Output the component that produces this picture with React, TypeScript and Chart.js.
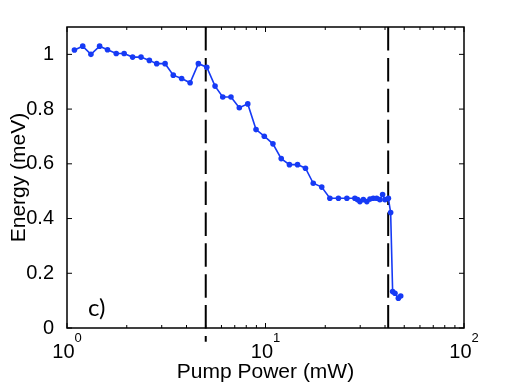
import React, { useEffect, useRef } from "react";
import { Chart, registerables } from "chart.js";

Chart.register(...registerables);

// Pump power (mW) and energy (meV)
const powers = [
  1.09, 1.2, 1.32, 1.46, 1.6, 1.77, 1.94, 2.14, 2.36, 2.6, 2.83, 3.12, 3.43, 3.78, 4.17, 4.59,
  5.06, 5.57, 6.09, 6.7, 7.38, 8.14, 8.96, 9.86, 10.9, 12.0, 13.2, 14.5, 15.9, 17.4, 19.2,
  21.1, 23.3, 25.7, 28.2, 29.1, 29.9, 31.1, 32.4, 33.6, 34.9, 36.3, 37.7, 38.9, 40.0, 41.6,
  42.7, 43.7, 44.9, 46.7, 48.0,
];
const energies = [
  1.016, 1.03, 1.0, 1.03, 1.017, 1.003, 1.003, 0.99, 0.99, 0.978, 0.966, 0.966, 0.924, 0.912,
  0.896, 0.966, 0.953, 0.884, 0.844, 0.844, 0.805, 0.819, 0.725, 0.701, 0.673, 0.619, 0.597,
  0.597, 0.584, 0.529, 0.515, 0.474, 0.474, 0.474, 0.474, 0.469, 0.462, 0.469, 0.462, 0.471,
  0.474, 0.474, 0.469, 0.488, 0.469, 0.474, 0.422, 0.133, 0.127, 0.109, 0.117,
];

const yTicks = [0, 0.2, 0.4, 0.6, 0.8, 1];
const xMajorTicks = [1, 10, 100];
const xTickBase = "10";
const xTickExponents = ["0", "1", "2"];
const xMinorTicks = [2, 3, 4, 5, 6, 7, 8, 9, 20, 30, 40, 50, 60, 70, 80, 90];
const markerLinesX = [5, 41.5];
const markerLinesTop = [1.1, 1.1];
const markerLinesBottom = [-0.05, 0];
const panelLabel = "c)";
const xTitle = "Pump Power (mW)";
const yTitle = "Energy (meV)";

const FONT = "'Liberation Sans', Arial, Helvetica, sans-serif";
const BLUE = "rgb(22, 58, 245)";

export default function App() {
  const ref = useRef<HTMLCanvasElement>(null);

  useEffect(() => {
    const canvas = ref.current;
    if (!canvas) return;

    const framePlugin = {
      id: "frame",
      afterDraw(chart: any) {
        const { ctx, chartArea: a, scales } = chart;
        const x = scales.x;
        const y = scales.y;
        ctx.save();
        ctx.strokeStyle = "#000";
        ctx.lineWidth = 1.5;
        ctx.strokeRect(a.left, a.top, a.right - a.left, a.bottom - a.top);

        ctx.lineWidth = 1;
        ctx.beginPath();
        yTicks.forEach((v) => {
          const py = y.getPixelForValue(v);
          ctx.moveTo(a.left, py);
          ctx.lineTo(a.left + 5, py);
          ctx.moveTo(a.right, py);
          ctx.lineTo(a.right - 5, py);
        });
        xMajorTicks.forEach((v) => {
          const px = x.getPixelForValue(v);
          ctx.moveTo(px, a.bottom);
          ctx.lineTo(px, a.bottom - 5);
          ctx.moveTo(px, a.top);
          ctx.lineTo(px, a.top + 5);
        });
        xMinorTicks.forEach((v) => {
          const px = x.getPixelForValue(v);
          ctx.moveTo(px, a.bottom);
          ctx.lineTo(px, a.bottom - 3);
          ctx.moveTo(px, a.top);
          ctx.lineTo(px, a.top + 3);
        });
        ctx.stroke();

        ctx.fillStyle = "#000";
        ctx.textBaseline = "alphabetic";
        ctx.textAlign = "left";
        xMajorTicks.forEach((v, i) => {
          ctx.font = `20px ${FONT}`;
          const w1 = ctx.measureText(xTickBase).width;
          ctx.font = `13px ${FONT}`;
          const w2 = ctx.measureText(xTickExponents[i]).width;
          const px = x.getPixelForValue(v);
          const start = px - (w1 + w2) / 2;
          ctx.font = `20px ${FONT}`;
          ctx.fillText(xTickBase, start, a.bottom + 30);
          ctx.font = `13px ${FONT}`;
          ctx.fillText(xTickExponents[i], start + w1, a.bottom + 13.5);
        });

        ctx.font = `24px Lato, 'Open Sans', sans-serif`;
        ctx.fillText(panelLabel, a.left + 21, a.bottom - 12);
        ctx.restore();
      },
    };

    const datasets: any[] = [
      {
        label: "energy",
        data: powers.map((p, i) => ({ x: p, y: energies[i] })),
        borderColor: BLUE,
        backgroundColor: BLUE,
        borderWidth: 1.6,
        pointRadius: 2.8,
        pointBorderWidth: 0,
        pointBackgroundColor: BLUE,
        tension: 0,
      },
      ...markerLinesX.map((mx, i) => ({
        label: "marker" + i,
        data: [
          { x: mx, y: markerLinesTop[i] },
          { x: mx, y: markerLinesBottom[i] },
        ],
        borderColor: "#000",
        borderWidth: 2,
        borderDash: [23.5, 7.4],
        pointRadius: 0,
        clip: false,
      })),
    ];

    const chart = new Chart(canvas, {
      type: "line",
      data: { datasets },
      options: {
        animation: false,
        responsive: false,
        maintainAspectRatio: false,
        devicePixelRatio: 1,
        layout: { padding: { top: 27, right: 49, left: 0, bottom: 0 } },
        plugins: {
          legend: { display: false },
          tooltip: { enabled: false },
        },
        scales: {
          x: {
            type: "logarithmic",
            position: "bottom",
            min: 1,
            max: 100,
            grid: { display: false },
            border: { display: false },
            ticks: { display: false },
            afterBuildTicks: (s: any) => {
              s.ticks = xMajorTicks.map((v) => ({ value: v }));
            },
            afterFit: (s: any) => {
              s.height = 57;
            },
            title: {
              display: true,
              text: xTitle,
              color: "#000",
              font: { family: FONT, size: 21 },
              padding: { top: 0, bottom: 0 },
            },
          },
          y: {
            type: "linear",
            min: 0,
            max: 1.1,
            grid: { display: false },
            border: { display: false },
            ticks: {
              color: "#000",
              font: { family: FONT, size: 20 },
              padding: 5,
              callback: (v: any) => String(v),
            },
            afterBuildTicks: (s: any) => {
              s.ticks = yTicks.map((v) => ({ value: v }));
            },
            afterFit: (s: any) => {
              s.width = 67;
            },
            title: {
              display: true,
              text: yTitle,
              color: "#000",
              font: { family: FONT, size: 21 },
              padding: { top: 7, bottom: 0 },
            },
          },
        },
      },
      plugins: [framePlugin],
    } as any);

    return () => chart.destroy();
  }, []);

  return (
    <div style={{ position: "fixed", left: 0, top: 0, width: 513, height: 385, background: "#fff" }}>
      <canvas ref={ref} width={513} height={385} style={{ display: "block", width: 513, height: 385 }} />
    </div>
  );
}
